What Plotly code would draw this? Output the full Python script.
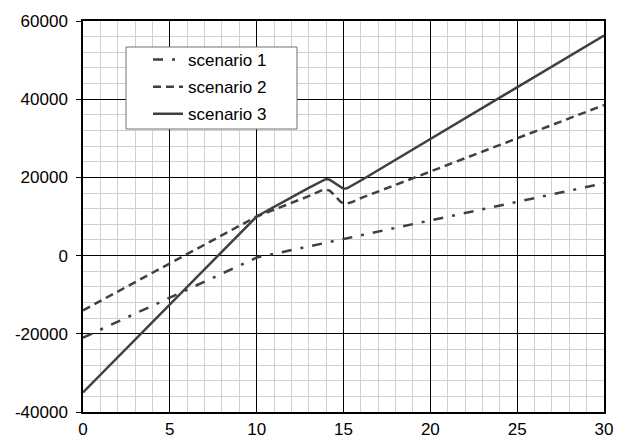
import plotly.graph_objects as go

# Data
x1 = [0, 10, 30]
s1 = [-21000, -500, 18500]

x2 = [0, 10, 13, 13.5, 13.8, 14, 14.2, 14.5, 14.8, 15, 15.2, 15.5, 16, 30]
s2 = [-14000, 10000, 15200, 16200, 16800, 16900, 16600, 15400, 13900, 13300, 13300, 13700, 14700, 38500]

x3 = [0, 10, 13, 13.5, 13.8, 14, 14.2, 14.5, 14.8, 15, 15.2, 15.5, 16, 30]
s3 = [-35000, 10000, 17300, 18500, 19300, 19600, 19400, 18500, 17500, 17100, 17200, 17900, 19200, 56300]

names = ["scenario 1", "scenario 2", "scenario 3"]
x_ticks = [0, 5, 10, 15, 20, 25, 30]
y_ticks = [-40000, -20000, 0, 20000, 40000, 60000]
y_labels = ["-40000", "-20000", "0", "20000", "40000", "60000"]

col = "#404040"
FONT = "Liberation Sans, Arial"
fig = go.Figure()
fig.add_trace(go.Scatter(x=x1, y=s1, mode="lines", name=names[0], legendgroup="a",
                         line=dict(color=col, width=2.5, dash="10px,9px,3px,9px")))
fig.add_trace(go.Scatter(x=x2, y=s2, mode="lines", name=names[1], legendgroup="b",
                         line=dict(color=col, width=2.5, dash="8px,5px")))
fig.add_trace(go.Scatter(x=x3, y=s3, mode="lines", name=names[2], legendgroup="c",
                         line=dict(color=col, width=2.5)))

axis_common = dict(showline=True, linecolor="black", linewidth=1.5, mirror=True,
                   showgrid=True, gridcolor="#000000", gridwidth=1, zeroline=False,
                   automargin=False,
                   tickfont=dict(family=FONT, size=17, color="black"))

fig.update_xaxes(range=[0, 30], tickvals=x_ticks, ticks="", ticklen=0,
                 ticklabelstandoff=1,
                 minor=dict(dtick=1, showgrid=True, gridcolor="#cfcfcf", gridwidth=1, ticks=""),
                 **axis_common)
fig.update_yaxes(range=[-40000, 60000], tickvals=y_ticks, ticktext=y_labels,
                 ticks="outside", ticklen=5,
                 tickcolor="black", ticklabelstandoff=5,
                 minor=dict(dtick=4000, showgrid=True, gridcolor="#cfcfcf", gridwidth=1, ticks=""),
                 **axis_common)

# legend box
fig.add_shape(type="rect", xref="paper", yref="paper",
              x0=(126 - 83) / 521, x1=(297 - 83) / 521,
              y0=(412 - 129) / 391, y1=(412 - 47) / 391,
              fillcolor="white", line=dict(color="#707070", width=1), layer="above")

fig.update_layout(
    width=620, height=440,
    margin=dict(l=83, r=16, t=21, b=28, autoexpand=False),
    plot_bgcolor="white", paper_bgcolor="white",
    showlegend=True,
    legend=dict(x=(148 - 83) / 521, y=(412 - 42) / 391, xanchor="left", yanchor="top",
                bgcolor="rgba(0,0,0,0)", borderwidth=0, tracegroupgap=2,
                font=dict(family=FONT, size=17, color="black")),
)

fig.write_html("out.html", config={"displayModeBar": False},
               post_script="document.body.style.margin='0px';")
